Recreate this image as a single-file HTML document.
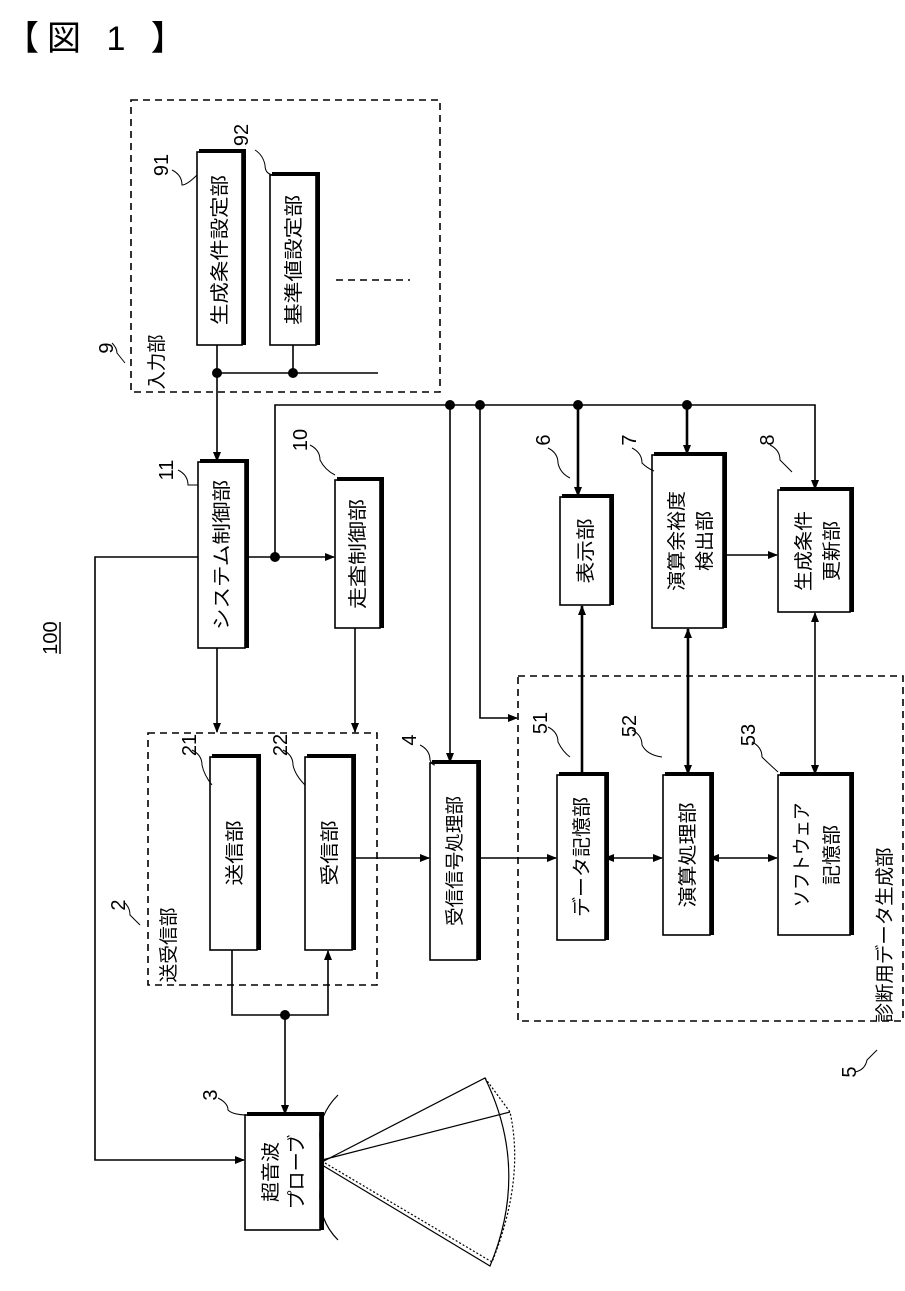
<!DOCTYPE html>
<html><head><meta charset="utf-8"><style>
html,body{margin:0;padding:0;background:#fff;}
svg{display:block;}
text{font-family:"Liberation Sans","Noto Sans CJK JP",sans-serif;fill:#000;}
</style></head><body>
<svg width="905" height="1291" viewBox="0 0 905 1291" xmlns="http://www.w3.org/2000/svg">
<defs>
<marker id="a" markerWidth="10" markerHeight="10" refX="9" refY="5" orient="auto" markerUnits="userSpaceOnUse"><path d="M0,1 L10,5 L0,9 Z" fill="#000"/></marker>
<marker id="s" markerWidth="10" markerHeight="10" refX="1" refY="5" orient="auto" markerUnits="userSpaceOnUse"><path d="M10,1 L0,5 L10,9 Z" fill="#000"/></marker>
</defs>
<text x="5" y="50" font-size="34" letter-spacing="8">【図 1 】</text>

<g fill="none" stroke="#000" stroke-width="1.6" stroke-dasharray="7,5">
<rect x="131" y="100" width="309" height="292"/>
<rect x="148" y="733" width="229" height="252"/>
<rect x="518" y="676" width="385" height="345"/>
<line x1="336" y1="280" x2="410" y2="280"/>
</g>

<g fill="#fff" stroke="#000" stroke-width="1.6">
<rect x="197" y="152" width="45" height="193"/>
<rect x="270" y="175" width="46" height="170"/>
<rect x="198" y="462" width="47" height="186"/>
<rect x="335" y="480" width="45" height="148"/>
<rect x="560" y="497" width="50" height="108"/>
<rect x="652" y="455" width="71" height="173"/>
<rect x="778" y="490" width="72" height="122"/>
<rect x="557" y="775" width="48" height="165"/>
<rect x="663" y="775" width="47" height="160"/>
<rect x="778" y="775" width="72" height="160"/>
<rect x="430" y="763" width="47" height="197"/>
<rect x="210" y="757" width="47" height="193"/>
<rect x="305" y="757" width="47" height="193"/>
<rect x="245" y="1115" width="75" height="115"/>
</g>
<g stroke="#000" stroke-width="4" fill="none">
<path d="M199,151 H244 V345"/><path d="M272,174 H318 V345"/><path d="M200,461 H247 V648"/>
<path d="M337,479 H382 V628"/><path d="M562,496 H612 V605"/><path d="M654,454 H725 V628"/>
<path d="M780,489 H852 V612"/><path d="M559,774 H607 V940"/><path d="M665,774 H712 V935"/>
<path d="M780,774 H852 V935"/><path d="M432,762 H479 V960"/><path d="M212,756 H259 V950"/>
<path d="M307,756 H354 V950"/><path d="M247,1114 H322 V1230"/>
</g>

<g stroke="#000" stroke-width="1.6" fill="none">
<line x1="217" y1="345" x2="217" y2="461" marker-end="url(#a)"/>
<line x1="217" y1="373" x2="378" y2="373"/>
<line x1="293" y1="345" x2="293" y2="373"/>
<path d="M198,557 H95 V1160 H244" marker-end="url(#a)"/>
<line x1="245" y1="557" x2="334" y2="557" marker-end="url(#a)"/>
<path d="M275,557 V405 H815 V489" marker-end="url(#a)"/>
<line x1="450" y1="405" x2="450" y2="762" marker-end="url(#a)"/>
<path d="M480,405 V718 H517" marker-end="url(#a)"/>
<line x1="217" y1="648" x2="217" y2="732" marker-end="url(#a)"/>
<line x1="355" y1="628" x2="355" y2="732" marker-end="url(#a)"/>
<line x1="352" y1="858" x2="429" y2="858" marker-end="url(#a)"/>
<line x1="477" y1="858" x2="556" y2="858" marker-end="url(#a)"/>
<line x1="723" y1="555" x2="777" y2="555" marker-end="url(#a)"/>
<path d="M232,950 V1015 H328 V951" marker-end="url(#a)"/>
<line x1="285" y1="1015" x2="285" y2="1114" marker-end="url(#a)"/>
<line x1="605" y1="858" x2="662" y2="858" marker-start="url(#s)" marker-end="url(#a)"/>
<line x1="710" y1="858" x2="777" y2="858" marker-start="url(#s)" marker-end="url(#a)"/>
<line x1="815" y1="613" x2="815" y2="774" marker-start="url(#s)" marker-end="url(#a)"/>
</g>
<g stroke="#000" stroke-width="2.6" fill="none">
<line x1="578" y1="405" x2="578" y2="496" marker-end="url(#a)"/>
<line x1="687" y1="405" x2="687" y2="454" marker-end="url(#a)"/>
<line x1="582" y1="775" x2="582" y2="606" marker-end="url(#a)"/>
<line x1="688" y1="629" x2="688" y2="774" marker-start="url(#s)" marker-end="url(#a)"/>
</g>
<g fill="#000">
<circle cx="217" cy="373" r="5"/><circle cx="293" cy="373" r="5"/><circle cx="275" cy="557" r="5"/>
<circle cx="450" cy="405" r="5"/><circle cx="480" cy="405" r="5"/><circle cx="578" cy="405" r="5"/>
<circle cx="687" cy="405" r="5"/><circle cx="285" cy="1015" r="5"/>
</g>

<g stroke="#000" stroke-width="1.2" fill="none">
<path d="M322,1162 L485,1078 Q530,1170 490,1266 L322,1165"/>
<path d="M322,1160 L510,1112" />
<path d="M485,1078 L510,1112 Q525,1180 492,1262" stroke-dasharray="2,2"/>
<path d="M325,1163 L492,1262" stroke-dasharray="2,2"/>
<path d="M338,1095 Q318,1115 320,1140"/><path d="M320,1190 Q318,1220 338,1240"/>
</g>

<g stroke="#000" stroke-width="1" fill="none">
<path d="M172,170 q10,5 10,15 q5,0 15,-10"/><path d="M255,150 q8,5 10,15 q0,10 10,10"/>
<path d="M178,470 q10,5 10,15 l10,0"/><path d="M310,445 q10,5 10,15 q5,10 15,15"/>
<path d="M548,448 q10,5 10,15 q2,10 12,15"/><path d="M632,448 q10,5 10,15 q5,5 12,8"/>
<path d="M770,445 q10,5 10,15 q5,5 12,12"/><path d="M548,727 q10,5 10,15 q5,10 12,15"/>
<path d="M632,730 q10,5 10,15 q5,10 20,12"/><path d="M752,742 q10,5 10,15 q5,5 16,15"/>
<path d="M420,745 q10,5 10,15 q2,5 5,5"/><path d="M192,750 q10,5 10,15 q2,10 10,20"/>
<path d="M283,750 q10,5 10,15 q2,10 12,20"/><path d="M218,1098 q10,5 10,12 q5,5 20,5"/>
<path d="M112,343 q5,5 5,10 l8,10"/><path d="M125,903 q5,5 5,12 l10,10"/>
<path d="M855,1072 q10,-2 12,-12 q5,-5 10,-10"/>
</g>

<g font-size="19" text-anchor="middle">
<text transform="translate(226,250) rotate(-90)" textLength="150" lengthAdjust="spacingAndGlyphs">生成条件設定部</text>
<text transform="translate(300,260) rotate(-90)" textLength="130" lengthAdjust="spacingAndGlyphs">基準値設定部</text>
<text transform="translate(228,555) rotate(-90)" textLength="150" lengthAdjust="spacingAndGlyphs">システム制御部</text>
<text transform="translate(364,554) rotate(-90)" textLength="110" lengthAdjust="spacingAndGlyphs">走査制御部</text>
<text transform="translate(592,551) rotate(-90)" textLength="65" lengthAdjust="spacingAndGlyphs">表示部</text>
<text transform="translate(683,541) rotate(-90)" textLength="100" lengthAdjust="spacingAndGlyphs">演算余裕度</text>
<text transform="translate(711,541) rotate(-90)" textLength="60" lengthAdjust="spacingAndGlyphs">検出部</text>
<text transform="translate(810,551) rotate(-90)" textLength="80" lengthAdjust="spacingAndGlyphs">生成条件</text>
<text transform="translate(838,551) rotate(-90)" textLength="60" lengthAdjust="spacingAndGlyphs">更新部</text>
<text transform="translate(588,857) rotate(-90)" textLength="120" lengthAdjust="spacingAndGlyphs">データ記憶部</text>
<text transform="translate(694,855) rotate(-90)" textLength="105" lengthAdjust="spacingAndGlyphs">演算処理部</text>
<text transform="translate(808,855) rotate(-90)" textLength="105" lengthAdjust="spacingAndGlyphs">ソフトウェア</text>
<text transform="translate(838,855) rotate(-90)" textLength="60" lengthAdjust="spacingAndGlyphs">記憶部</text>
<text transform="translate(461,861) rotate(-90)" textLength="130" lengthAdjust="spacingAndGlyphs">受信信号処理部</text>
<text transform="translate(241,853) rotate(-90)" textLength="65" lengthAdjust="spacingAndGlyphs">送信部</text>
<text transform="translate(336,853) rotate(-90)" textLength="65" lengthAdjust="spacingAndGlyphs">受信部</text>
<text transform="translate(277,1172) rotate(-90)" textLength="60" lengthAdjust="spacingAndGlyphs">超音波</text>
<text transform="translate(303,1172) rotate(-90)" textLength="75" lengthAdjust="spacingAndGlyphs">プローブ</text>
<text transform="translate(163,362) rotate(-90)" textLength="55" lengthAdjust="spacingAndGlyphs">入力部</text>
<text transform="translate(175,945) rotate(-90)" textLength="75" lengthAdjust="spacingAndGlyphs">送受信部</text>
<text transform="translate(891,935) rotate(-90)" textLength="175" lengthAdjust="spacingAndGlyphs">診断用データ生成部</text>
</g>
<g font-size="20" text-anchor="middle">
<text transform="translate(168,165) rotate(-90)">91</text>
<text transform="translate(248,135) rotate(-90)">92</text>
<text transform="translate(113,348) rotate(-90)">9</text>
<text transform="translate(173,470) rotate(-90)">11</text>
<text transform="translate(307,440) rotate(-90)">10</text>
<text transform="translate(550,440) rotate(-90)">6</text>
<text transform="translate(636,440) rotate(-90)">7</text>
<text transform="translate(774,440) rotate(-90)">8</text>
<text transform="translate(547,723) rotate(-90)">51</text>
<text transform="translate(636,726) rotate(-90)">52</text>
<text transform="translate(755,735) rotate(-90)">53</text>
<text transform="translate(416,740) rotate(-90)">4</text>
<text transform="translate(196,745) rotate(-90)">21</text>
<text transform="translate(287,745) rotate(-90)">22</text>
<text transform="translate(125,905) rotate(-90)">2</text>
<text transform="translate(217,1095) rotate(-90)">3</text>
<text transform="translate(856,1072) rotate(-90)">5</text>
<text transform="translate(57,638) rotate(-90)" font-size="20">100</text>
</g>
<line x1="60" y1="622" x2="60" y2="654" stroke="#000" stroke-width="1.5"/>
</svg>
</body></html>
